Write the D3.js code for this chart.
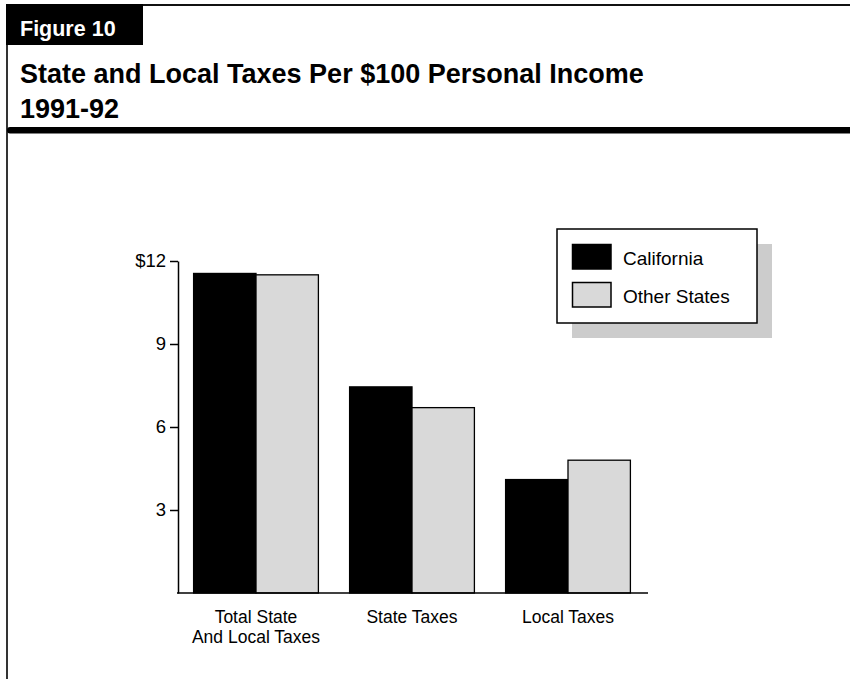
<!DOCTYPE html>
<html>
<head>
<meta charset="utf-8">
<script src="https://cdn.jsdelivr.net/npm/d3@7"></script>
<style>
  html, body { margin: 0; padding: 0; background: #fff; }
  svg { display: block; font-family: "Liberation Sans", Arial, Helvetica, sans-serif; }
</style>
</head>
<body>
<script>
// Tax burden per $100 of personal income, 1991-92
const categories = ["Total State|And Local Taxes", "State Taxes", "Local Taxes"];
const seriesNames = ["California", "Other States"];
const california = [11.55, 7.45, 4.1];
const otherStates = [11.5, 6.7, 4.8];
const yTicks = [3, 6, 9, 12];
const yTickLabels = ["3", "6", "9", "$12"];

const seriesValues = [california, otherStates];
const colors = ["#000000", "#d9d9d9"];

const W = 850, H = 679;
const svg = d3.select("body").append("svg").attr("width", W).attr("height", H);

// Frame: left rule and top rule
svg.append("line").attr("x1", 7).attr("x2", 7).attr("y1", 4).attr("y2", H)
  .attr("stroke", "#000").attr("stroke-width", 1.6);
svg.append("line").attr("x1", 7).attr("x2", W).attr("y1", 5).attr("y2", 5)
  .attr("stroke", "#111").attr("stroke-width", 2);

// Figure tab
svg.append("rect").attr("x", 6).attr("y", 4).attr("width", 137).attr("height", 41).attr("fill", "#000");
svg.append("text").attr("x", 20).attr("y", 36).attr("fill", "#fff")
  .attr("font-size", 21.5).attr("font-weight", "bold").text("Figure 10");

// Title
svg.append("text").attr("x", 20).attr("y", 83).attr("font-size", 27).attr("font-weight", "bold")
  .text("State and Local Taxes Per $100 Personal Income");
svg.append("text").attr("x", 20).attr("y", 117.5).attr("font-size", 27).attr("font-weight", "bold")
  .text("1991-92");

// Heavy rule under the title
svg.append("rect").attr("x", 7).attr("y", 127).attr("width", W).attr("height", 6.5)
  .attr("rx", 3).attr("fill", "#000");

// Scales
const x0 = d3.scaleBand().domain(categories).range([178, 646]).paddingInner(0.2).paddingOuter(0.1);
const x1 = d3.scaleBand().domain(seriesNames).range([0, x0.bandwidth()]);
const y = d3.scaleLinear().domain([0, 12]).range([593, 261]);

// Bars
const rows = categories.map((c, i) => ({
  cat: c,
  vals: seriesNames.map((s, j) => ({ s, v: seriesValues[j][i], color: colors[j] }))
}));
const g = svg.append("g");
g.selectAll("g.grp").data(rows).join("g").attr("class", "grp")
  .attr("transform", d => `translate(${x0(d.cat)},0)`)
  .selectAll("rect").data(d => d.vals).join("rect")
  .attr("x", d => x1(d.s))
  .attr("y", d => y(d.v))
  .attr("width", x1.bandwidth())
  .attr("height", d => y(0) - y(d.v))
  .attr("fill", d => d.color)
  .attr("stroke", "#000").attr("stroke-width", 1.3);

// Y axis
const yAxis = d3.axisLeft(y).tickValues(yTicks).tickSize(8).tickSizeOuter(0).tickPadding(4)
  .tickFormat((d, i) => yTickLabels[i]);
const ya = svg.append("g").attr("transform", "translate(178,0)").call(yAxis);
ya.select(".domain").attr("stroke", "#000").attr("stroke-width", 1.5);
ya.selectAll(".tick line").attr("stroke", "#000").attr("stroke-width", 1.5);
ya.selectAll(".tick text").attr("font-size", 18.5).attr("fill", "#000")
  .attr("font-family", "Liberation Sans, Arial, sans-serif");

// X axis baseline and category labels
const xAxis = d3.axisBottom(x0).tickSize(0).tickSizeOuter(0).tickFormat("");
const xa = svg.append("g").attr("transform", "translate(0,593)").call(xAxis);
xa.select(".domain").remove();
svg.append("line").attr("x1", 177).attr("x2", 648).attr("y1", 593).attr("y2", 593)
  .attr("stroke", "#000").attr("stroke-width", 1.5);

const labels = svg.append("g").attr("font-size", 17.5).attr("text-anchor", "middle");
categories.forEach(c => {
  const t = labels.append("text").attr("x", x0(c) + x0.bandwidth() / 2).attr("y", 623);
  c.split("|").forEach((line, k) => {
    t.append("tspan").attr("x", x0(c) + x0.bandwidth() / 2).attr("dy", k === 0 ? 0 : 19.5).text(line);
  });
});

// Legend with drop shadow
const lg = svg.append("g").attr("transform", "translate(557,229)");
lg.append("rect").attr("x", 15).attr("y", 15).attr("width", 200).attr("height", 94).attr("fill", "#cccccc");
lg.append("rect").attr("x", 0).attr("y", 0).attr("width", 200).attr("height", 94)
  .attr("fill", "#fff").attr("stroke", "#000").attr("stroke-width", 1.5);
seriesNames.forEach((s, j) => {
  lg.append("rect").attr("x", 15.5).attr("y", 15.5 + j * 38).attr("width", 38.5).attr("height", 24.5)
    .attr("fill", colors[j]).attr("stroke", "#000").attr("stroke-width", 1.5);
  lg.append("text").attr("x", 66).attr("y", 36 + j * 37.5).attr("font-size", 19).text(s);
});
</script>
</body>
</html>
